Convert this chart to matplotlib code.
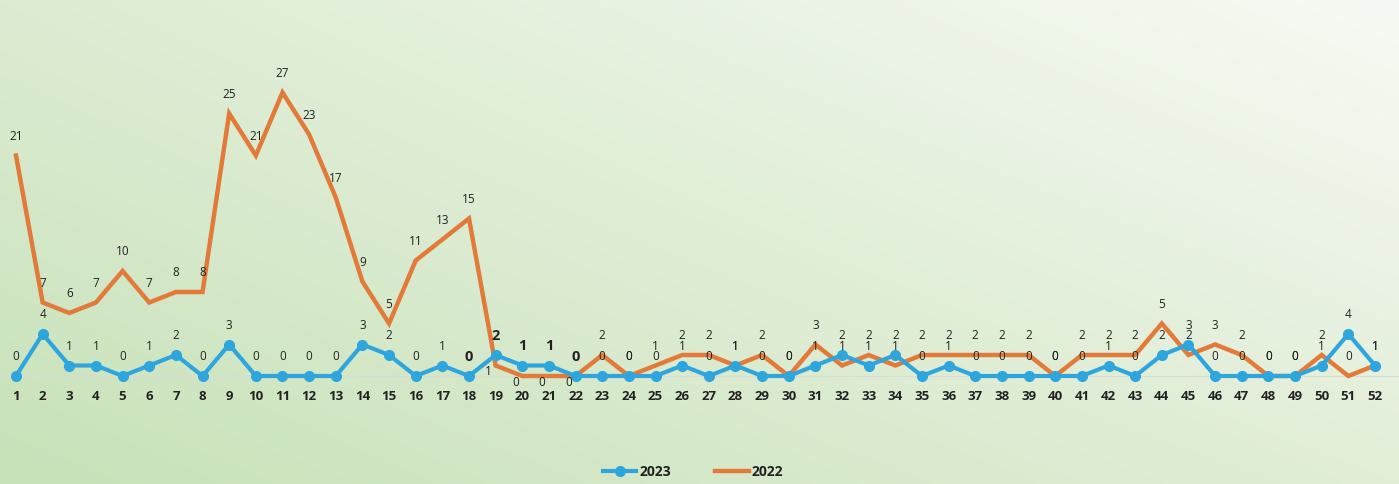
import numpy as np
import matplotlib
matplotlib.use("Agg")
import matplotlib.pyplot as plt
from matplotlib.lines import Line2D

weeks = list(range(1, 53))
s2023 = [0, 4, 1, 1, 0, 1, 2, 0, 3, 0, 0, 0, 0, 3, 2, 0, 1, 0, 2, 1,
         1, 0, 0, 0, 0, 1, 0, 1, 0, 0, 1, 2, 1, 2, 0, 1, 0, 0, 0, 0,
         0, 1, 0, 2, 3, 0, 0, 0, 0, 1, 4, 1]
s2022 = [21, 7, 6, 7, 10, 7, 8, 8, 25, 21, 27, 23, 17, 9, 5, 11, 13, 15, 1, 0,
         0, 0, 2, 0, 1, 2, 2, 1, 2, 0, 3, 1, 2, 1, 2, 2, 2, 2, 2, 0,
         2, 2, 2, 5, 2, 3, 2, 0, 0, 2, 0, 1]
labels = ["2023", "2022"]

BLUE = "#2EA6DD"
ORANGE = "#E27B3A"
W, H, DPI = 1399, 484, 100

plt.rcParams['font.family'] = ['Open Sans', 'DejaVu Sans']

fig = plt.figure(figsize=(W / DPI, H / DPI), dpi=DPI)

# background gradient
bg = fig.add_axes([0, 0, 1, 1], zorder=-5)
tl = np.array([220, 236, 210]) / 255
tr = np.array([247, 250, 244]) / 255
bl = np.array([200, 226, 185]) / 255
br = np.array([226, 238, 216]) / 255
u = np.linspace(0, 1, 200)[None, :, None]
v = np.linspace(0, 1, 80)[:, None, None]
img = (1 - v) * ((1 - u) * tl + u * tr) + v * ((1 - u) * bl + u * br)
bg.imshow(img, aspect='auto', extent=[0, 1, 0, 1], interpolation='bilinear')
bg.axis('off')

zero_px = 108
unit = 10.5
x0, dx = 16, (1375 - 16) / 51
ax = fig.add_axes([0, zero_px / H, 1, (H - zero_px) / H])
ax.patch.set_alpha(0)
ax.set_xlim(1 - x0 / dx, 1 + (W - x0) / dx)
ax.set_ylim(0, (H - zero_px) / unit)
for s in ['top', 'right', 'left']:
    ax.spines[s].set_visible(False)
ax.spines['bottom'].set_color('#d8dcd4')
ax.spines['bottom'].set_linewidth(0.8)
ax.set_yticks([])
ax.set_xticks(weeks)
ax.set_xticklabels([str(w) for w in weeks], fontsize=9.5, fontweight='bold', color='#222222')
ax.tick_params(axis='x', length=0, pad=10)

ax.plot(weeks, s2022, color=ORANGE, lw=3.2, solid_joinstyle='miter', clip_on=False, zorder=3)
ax.plot(weeks, s2023, color=BLUE, lw=3.0, marker='o', markersize=7, clip_on=False, zorder=4)

below_2022 = {19, 20, 21, 22}
big_2023 = {18, 19, 20, 21, 22}
for w, val in zip(weeks, s2022):
    if w in below_2022:
        off = (-5, -4.5)
    else:
        off = (0, 14)
    ax.annotate(str(val), (w, val), xytext=off, textcoords='offset points',
                ha='center', va='center', fontsize=8.5, color='#222222', zorder=6,
                annotation_clip=False)
for w, val in zip(weeks, s2023):
    big = w in big_2023
    ax.annotate(str(val), (w, val), xytext=(0, 14), textcoords='offset points',
                ha='center', va='center', fontsize=10.5 if big else 8.5,
                fontweight='bold' if big else 'normal', color='#222222', zorder=6,
                annotation_clip=False)

handles = [Line2D([], [], color=BLUE, lw=3.0, marker='o', markersize=7),
           Line2D([], [], color=ORANGE, lw=3.2)]
fig.legend(handles, labels, loc='center', bbox_to_anchor=(693 / W, 12 / H), ncol=2,
           frameon=False, prop={'size': 10, 'weight': 'bold'}, handlelength=2.4,
           handletextpad=0.2, columnspacing=3.2, labelcolor='#222222')

fig.savefig('out.png', dpi=DPI)
